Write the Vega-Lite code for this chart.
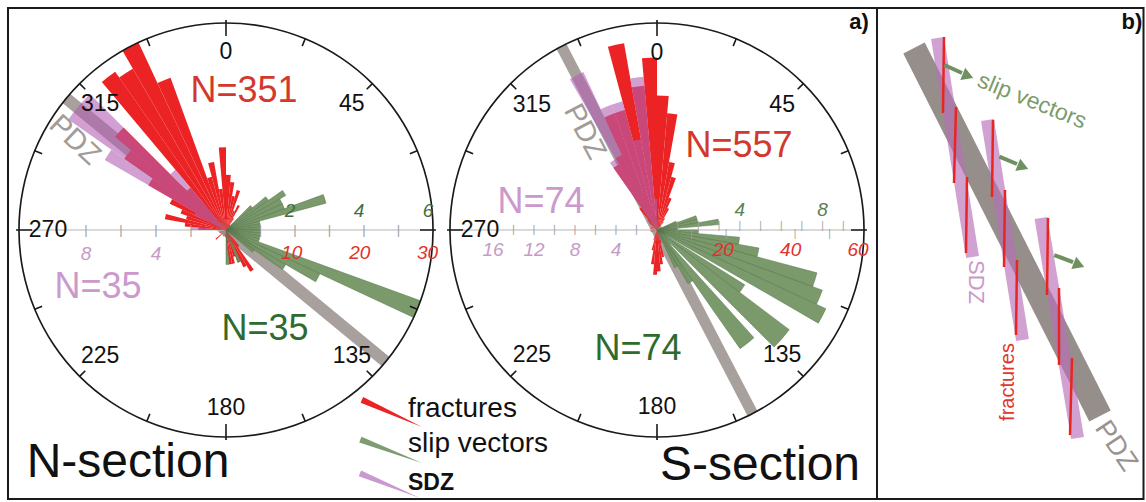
{
"$schema": "https://vega.github.io/schema/vega-lite/v6.json",
"width": 1146, "height": 502,
"autosize": {"type": "fit", "contains": "padding"},
"padding": 0,
"background": "white",
"data": {"values": [{"one": 1}]},
"config": {"view": {"stroke": null}, "axis": {"disable": true}, "font": "Liberation Sans", "text": {"font": "Liberation Sans"}},
"datasets": {
 "nFrac": [
  {"a0":270,"a1":275,"n":4},{"a0":275,"a1":280,"n":6},{"a0":280,"a1":285,"n":9},{"a0":285,"a1":290,"n":6},{"a0":290,"a1":295,"n":7},{"a0":295,"a1":300,"n":9},
  {"a0":300,"a1":305,"n":13},{"a0":305,"a1":310,"n":18},{"a0":310,"a1":315,"n":21},{"a0":315,"a1":320,"n":8},{"a0":320,"a1":325,"n":28},{"a0":325,"a1":330,"n":27},
  {"a0":330,"a1":335,"n":30},{"a0":335,"a1":340,"n":23.5},{"a0":340,"a1":345,"n":8},{"a0":345,"a1":350,"n":10},{"a0":350,"a1":355,"n":6},{"a0":355,"a1":360,"n":12},
  {"a0":0,"a1":5,"n":8},{"a0":5,"a1":10,"n":7},{"a0":10,"a1":15,"n":5},{"a0":15,"a1":20,"n":6},{"a0":20,"a1":25,"n":3},{"a0":25,"a1":30,"n":4},{"a0":30,"a1":35,"n":2},{"a0":35,"a1":40,"n":1},
  {"a0":140,"a1":145,"n":3},{"a0":145,"a1":150,"n":7},{"a0":150,"a1":155,"n":6},{"a0":155,"a1":160,"n":5},{"a0":160,"a1":165,"n":4},{"a0":165,"a1":170,"n":5},{"a0":170,"a1":175,"n":5},{"a0":175,"a1":180,"n":3},
  {"a0":180,"a1":185,"n":1},{"a0":200,"a1":205,"n":1},{"a0":225,"a1":230,"n":2},{"a0":245,"a1":250,"n":1}
 ],
 "nSlip": [
  {"a0":45,"a1":50,"n":1},{"a0":50,"a1":55,"n":1.5},{"a0":55,"a1":60,"n":2},{"a0":60,"a1":65,"n":1.8},{"a0":65,"a1":70,"n":1.8},{"a0":70,"a1":75,"n":3},
  {"a0":75,"a1":80,"n":1},{"a0":80,"a1":85,"n":1},{"a0":85,"a1":90,"n":1},{"a0":90,"a1":95,"n":1},{"a0":95,"a1":100,"n":1},{"a0":100,"a1":105,"n":1},
  {"a0":105,"a1":110,"n":1},{"a0":110,"a1":115,"n":6},{"a0":115,"a1":120,"n":3},{"a0":120,"a1":125,"n":2},{"a0":125,"a1":130,"n":1},{"a0":155,"a1":160,"n":1},{"a0":175,"a1":180,"n":1}
 ],
 "nSdz": [
  {"a0":270,"a1":275,"n":2},{"a0":295,"a1":300,"n":2},{"a0":300,"a1":305,"n":8},{"a0":305,"a1":310,"n":11},{"a0":310,"a1":315,"n":11},{"a0":315,"a1":320,"n":4.5}
 ],
 "sFrac": [
  {"a0":250,"a1":255,"n":2},{"a0":265,"a1":270,"n":2},{"a0":280,"a1":285,"n":2},{"a0":295,"a1":300,"n":2},{"a0":310,"a1":315,"n":3},{"a0":315,"a1":320,"n":4},
  {"a0":320,"a1":325,"n":8},{"a0":325,"a1":330,"n":22},{"a0":330,"a1":335,"n":24},{"a0":335,"a1":340,"n":36},{"a0":340,"a1":345,"n":36},{"a0":345,"a1":350,"n":55},
  {"a0":350,"a1":355,"n":42},{"a0":355,"a1":360,"n":50},{"a0":0,"a1":5,"n":39},{"a0":5,"a1":10,"n":34},{"a0":10,"a1":15,"n":20},{"a0":15,"a1":20,"n":16},
  {"a0":20,"a1":25,"n":10},{"a0":25,"a1":30,"n":7},{"a0":30,"a1":35,"n":4},{"a0":35,"a1":40,"n":3},
  {"a0":160,"a1":165,"n":4},{"a0":165,"a1":170,"n":8},{"a0":170,"a1":175,"n":10},{"a0":175,"a1":180,"n":12},{"a0":180,"a1":185,"n":13},{"a0":185,"a1":190,"n":10},{"a0":190,"a1":195,"n":6},{"a0":195,"a1":200,"n":3}
 ],
 "sSlip": [
  {"a0":65,"a1":70,"n":1},{"a0":70,"a1":75,"n":2},{"a0":75,"a1":80,"n":2},{"a0":80,"a1":85,"n":3},{"a0":85,"a1":90,"n":1},{"a0":90,"a1":95,"n":2},
  {"a0":95,"a1":100,"n":4},{"a0":100,"a1":105,"n":5},{"a0":105,"a1":110,"n":8},{"a0":110,"a1":115,"n":8.5},{"a0":115,"a1":120,"n":9},
  {"a0":122,"a1":127,"n":5},{"a0":127,"a1":135,"n":8},{"a0":138,"a1":145,"n":7},{"a0":145,"a1":150,"n":3},{"a0":150,"a1":155,"n":2}
 ],
 "sSdz": [
  {"a0":325,"a1":330,"n":8},{"a0":330,"a1":335,"n":17},{"a0":335,"a1":340,"n":13},{"a0":340,"a1":345,"n":13},{"a0":345,"a1":350,"n":9},{"a0":350,"a1":355,"n":15},{"a0":355,"a1":360,"n":3}
 ],
 "compass": [
  {"a":0},{"a":22.5},{"a":45},{"a":67.5},{"a":90},{"a":112.5},{"a":135},{"a":157.5},{"a":180},{"a":202.5},{"a":225},{"a":247.5},{"a":270},{"a":292.5},{"a":315},{"a":337.5}
 ],
 "compassLabels": [
  {"a":0,"t":"0"},{"a":45,"t":"45"},{"a":135,"t":"135"},{"a":180,"t":"180"},{"a":225,"t":"225"},{"a":270,"t":"270"},{"a":315,"t":"315"}
 ],
 "bSdz": [
  {"x1":3.4372,"y1":0.9275,"x2":3.6063,"y2":-0.1304},
  {"x1":3.6787,"y1":0.5314,"x2":3.8478,"y2":-0.5314},
  {"x1":3.9372,"y1":0.0580,"x2":4.1135,"y2":-1.0048}
 ],
 "bFrac": [
  {"x1":3.4686,"y1":0.9324,"x2":3.4638,"y2":0.5652},
  {"x1":3.5266,"y1":0.5942,"x2":3.5169,"y2":0.2271},
  {"x1":3.5797,"y1":0.2560,"x2":3.5749,"y2":-0.1111},
  {"x1":3.7053,"y1":0.5314,"x2":3.7005,"y2":0.1594},
  {"x1":3.7633,"y1":0.1932,"x2":3.7585,"y2":-0.1787},
  {"x1":3.8213,"y1":-0.1449,"x2":3.8164,"y2":-0.5072},
  {"x1":3.9710,"y1":0.0580,"x2":3.9662,"y2":-0.3140},
  {"x1":4.0242,"y1":-0.2802,"x2":4.0242,"y2":-0.6522},
  {"x1":4.0870,"y1":-0.6184,"x2":4.0773,"y2":-0.9903}
 ],
 "bArrow": [
  {"x1":3.4700,"y1":0.7971,"x2":3.5556,"y2":0.7585,"hx":3.5845,"hy":0.7440},
  {"x1":3.7357,"y1":0.3541,"x2":3.8213,"y2":0.3188,"hx":3.8502,"hy":0.3043},
  {"x1":4.0014,"y1":-0.1208,"x2":4.0918,"y2":-0.1546,"hx":4.1208,"hy":-0.1691}
 ]
},
"resolve": {"scale": {"radius": "independent"}},
"layer": [
 {"mark": {"type": "rect", "filled": false, "stroke": "#1a1a1a", "strokeWidth": 2},
  "encoding": {"x": {"datum": -1.0531, "type": "quantitative", "scale": {"domain": [-1.09179, 4.44444], "nice": false, "zero": false}},
   "x2": {"datum": 4.4324}, "y": {"datum": 1.0725, "type": "quantitative", "scale": {"domain": [-1.31401, 1.11111], "nice": false, "zero": false}}, "y2": {"datum": -1.2995}}},
 {"mark": {"type": "rule", "stroke": "#1a1a1a", "strokeWidth": 2},
  "encoding": {"x": {"datum": 3.1449, "type": "quantitative"}, "y": {"datum": 1.0725, "type": "quantitative"}, "y2": {"datum": -1.2995}}},

 {"mark": {"type": "rule", "stroke": "#a8a09c", "strokeWidth": 12, "strokeCap": "butt"},
  "encoding": {"x": {"datum": -0.7716, "type": "quantitative"}, "y": {"datum": 0.6361, "type": "quantitative"}, "x2": {"datum": 0.7716}, "y2": {"datum": -0.6361}}},
 {"mark": {"type": "rule", "stroke": "#b5b5b5", "strokeWidth": 1},
  "encoding": {"x": {"datum": -1, "type": "quantitative"}, "x2": {"datum": 1}, "y": {"datum": 0, "type": "quantitative"}}},
 {"data": {"name": "nFrac"}, "mark": {"type": "arc", "fill": "#ec2324"},
  "encoding": {"x": {"datum": 0, "type": "quantitative"}, "y": {"datum": 0, "type": "quantitative"},
   "theta": {"field": "a0", "type": "quantitative", "scale": {"domain": [0, 360], "range": [0, 6.283185307179586]}}, "theta2": {"field": "a1"},
   "radius": {"field": "n", "type": "quantitative", "scale": {"type": "linear", "domain": [0, 30], "range": [0, 207], "zero": true}}}},
 {"data": {"name": "nSlip"}, "mark": {"type": "arc", "fill": "#70915f", "fillOpacity": 0.92, "stroke": "#55744a", "strokeWidth": 0.5},
  "encoding": {"x": {"datum": 0, "type": "quantitative"}, "y": {"datum": 0, "type": "quantitative"},
   "theta": {"field": "a0", "type": "quantitative"}, "theta2": {"field": "a1"},
   "radius": {"field": "n", "type": "quantitative", "scale": {"type": "linear", "domain": [0, 6], "range": [0, 207], "zero": true}}}},
 {"data": {"name": "nSdz"}, "mark": {"type": "arc", "fill": "#b35fb3", "fillOpacity": 0.6},
  "encoding": {"x": {"datum": 0, "type": "quantitative"}, "y": {"datum": 0, "type": "quantitative"},
   "theta": {"field": "a0", "type": "quantitative"}, "theta2": {"field": "a1"},
   "radius": {"field": "n", "type": "quantitative", "scale": {"type": "linear", "domain": [0, 11.83], "range": [0, 207], "zero": true}}}},
 {"mark": {"type": "arc", "fill": "#1a1a1a", "radius": 207.8, "radius2": 206.2},
  "encoding": {"x": {"datum": 0, "type": "quantitative"}, "y": {"datum": 0, "type": "quantitative"}, "theta": {"datum": 0, "type": "quantitative"}, "theta2": {"datum": 360}}},
 {"data": {"name": "compass"}, "transform": [{"filter": "datum.a % 90 != 0"}],
  "mark": {"type": "arc", "fill": "#1a1a1a", "radius": 207, "radius2": 199, "thetaOffset": -0.004, "theta2Offset": 0.004},
  "encoding": {"x": {"datum": 0, "type": "quantitative"}, "y": {"datum": 0, "type": "quantitative"}, "theta": {"field": "a", "type": "quantitative"}, "theta2": {"field": "a"}}},
 {"data": {"name": "compass"}, "transform": [{"filter": "datum.a % 90 == 0"}],
  "mark": {"type": "arc", "fill": "#1a1a1a", "radius": 210, "radius2": 194, "thetaOffset": -0.004, "theta2Offset": 0.004},
  "encoding": {"x": {"datum": 0, "type": "quantitative"}, "y": {"datum": 0, "type": "quantitative"}, "theta": {"field": "a", "type": "quantitative"}, "theta2": {"field": "a"}}},
 {"data": {"name": "compassLabels"}, "mark": {"type": "text", "radius": 178, "fontSize": 23, "fill": "#111", "align": "center", "baseline": "middle"},
  "encoding": {"x": {"datum": 0, "type": "quantitative"}, "y": {"datum": 0, "type": "quantitative"}, "theta": {"field": "a", "type": "quantitative"}, "text": {"field": "t"}}},
 {"data": {"values": [{"v": 5}, {"v": 10}, {"v": 15}, {"v": 20}, {"v": 25}]}, "mark": {"type": "text", "text": "|", "fontSize": 13, "fill": "#a0a0a0", "baseline": "middle", "align": "center"},
  "encoding": {"x": {"datum": 0, "type": "quantitative"}, "y": {"datum": 0, "type": "quantitative"}, "theta": {"datum": 90, "type": "quantitative"},
   "radius": {"field": "v", "type": "quantitative", "scale": {"type": "linear", "domain": [0, 30], "range": [0, 207], "zero": true}}}},
 {"data": {"values": [{"v": 2}, {"v": 4}, {"v": 6}, {"v": 8}]}, "mark": {"type": "text", "text": "|", "fontSize": 13, "fill": "#a0a0a0", "baseline": "middle", "align": "center"},
  "encoding": {"x": {"datum": 0, "type": "quantitative"}, "y": {"datum": 0, "type": "quantitative"}, "theta": {"datum": 270, "type": "quantitative"},
   "radius": {"field": "v", "type": "quantitative", "scale": {"type": "linear", "domain": [0, 11.83], "range": [0, 207], "zero": true}}}},
 {"data": {"values": [{"v": 10}, {"v": 20}, {"v": 30}]}, "mark": {"type": "text", "fontSize": 19, "fontStyle": "italic", "fill": "#e0322a", "baseline": "middle", "align": "center", "dy": 23, "dx": -2},
  "encoding": {"x": {"datum": 0, "type": "quantitative"}, "y": {"datum": 0, "type": "quantitative"}, "theta": {"datum": 90, "type": "quantitative"},
   "radius": {"field": "v", "type": "quantitative", "scale": {"type": "linear", "domain": [0, 30.5], "range": [0, 207], "zero": true}}, "text": {"field": "v"}}},
 {"data": {"values": [{"v": 2}, {"v": 4}, {"v": 6}]}, "mark": {"type": "text", "fontSize": 19, "fontStyle": "italic", "fill": "#3f6f3f", "baseline": "middle", "align": "center", "dy": -19, "dx": -5},
  "encoding": {"x": {"datum": 0, "type": "quantitative"}, "y": {"datum": 0, "type": "quantitative"}, "theta": {"datum": 90, "type": "quantitative"},
   "radius": {"field": "v", "type": "quantitative", "scale": {"type": "linear", "domain": [0, 6], "range": [0, 207], "zero": true}}, "text": {"field": "v"}}},
 {"data": {"values": [{"v": 4}, {"v": 8}]}, "mark": {"type": "text", "fontSize": 19, "fontStyle": "italic", "fill": "#c79ac7", "baseline": "middle", "align": "center", "dy": 24},
  "encoding": {"x": {"datum": 0, "type": "quantitative"}, "y": {"datum": 0, "type": "quantitative"}, "theta": {"datum": 270, "type": "quantitative"},
   "radius": {"field": "v", "type": "quantitative", "scale": {"type": "linear", "domain": [0, 11.83], "range": [0, 207], "zero": true}}, "text": {"field": "v"}}},
 {"mark": {"type": "text", "text": "N=351", "fontSize": 36, "fill": "#d2382c", "align": "center", "baseline": "alphabetic"},
  "encoding": {"x": {"datum": 0.0870, "type": "quantitative"}, "y": {"datum": 0.6184, "type": "quantitative"}}},
 {"mark": {"type": "text", "text": "N=35", "fontSize": 36, "fill": "#cc99cc", "align": "center", "baseline": "alphabetic"},
  "encoding": {"x": {"datum": -0.6184, "type": "quantitative"}, "y": {"datum": -0.3285, "type": "quantitative"}}},
 {"mark": {"type": "text", "text": "N=35", "fontSize": 36, "fill": "#2f6b2f", "align": "center", "baseline": "alphabetic"},
  "encoding": {"x": {"datum": 0.1884, "type": "quantitative"}, "y": {"datum": -0.5314, "type": "quantitative"}}},
 {"mark": {"type": "text", "text": "N-section", "fontSize": 48, "fill": "#111", "align": "center", "baseline": "alphabetic"},
  "encoding": {"x": {"datum": -0.4734, "type": "quantitative"}, "y": {"datum": -1.1932, "type": "quantitative"}}},
 {"mark": {"type": "text", "text": "PDZ", "fontSize": 29, "fill": "#a39b97", "align": "center", "baseline": "middle", "angle": 43},
  "encoding": {"x": {"datum": -0.7295, "type": "quantitative"}, "y": {"datum": 0.4348, "type": "quantitative"}}},

 {"mark": {"type": "rule", "stroke": "#a8a09c", "strokeWidth": 11, "strokeCap": "butt"},
  "encoding": {"x": {"datum": 1.6204, "type": "quantitative"}, "y": {"datum": 0.8870, "type": "quantitative"}, "x2": {"datum": 2.5438}, "y2": {"datum": -0.8870}}},
 {"mark": {"type": "rule", "stroke": "#b5b5b5", "strokeWidth": 1},
  "encoding": {"x": {"datum": 1.0821, "type": "quantitative"}, "x2": {"datum": 3.0821}, "y": {"datum": 0, "type": "quantitative"}}},
 {"data": {"name": "sFrac"}, "mark": {"type": "arc", "fill": "#ec2324"},
  "encoding": {"x": {"datum": 2.0821, "type": "quantitative"}, "y": {"datum": 0, "type": "quantitative"},
   "theta": {"field": "a0", "type": "quantitative"}, "theta2": {"field": "a1"},
   "radius": {"field": "n", "type": "quantitative", "scale": {"type": "linear", "domain": [0, 60], "range": [0, 207], "zero": true}}}},
 {"data": {"name": "sSlip"}, "mark": {"type": "arc", "fill": "#70915f", "fillOpacity": 0.92, "stroke": "#55744a", "strokeWidth": 0.5},
  "encoding": {"x": {"datum": 2.0821, "type": "quantitative"}, "y": {"datum": 0, "type": "quantitative"},
   "theta": {"field": "a0", "type": "quantitative"}, "theta2": {"field": "a1"},
   "radius": {"field": "n", "type": "quantitative", "scale": {"type": "linear", "domain": [0, 10], "range": [0, 207], "zero": true}}}},
 {"data": {"name": "sSdz"}, "mark": {"type": "arc", "fill": "#b35fb3", "fillOpacity": 0.6},
  "encoding": {"x": {"datum": 2.0821, "type": "quantitative"}, "y": {"datum": 0, "type": "quantitative"},
   "theta": {"field": "a0", "type": "quantitative"}, "theta2": {"field": "a1"},
   "radius": {"field": "n", "type": "quantitative", "scale": {"type": "linear", "domain": [0, 20.2], "range": [0, 207], "zero": true}}}},
 {"mark": {"type": "arc", "fill": "#1a1a1a", "radius": 207.8, "radius2": 206.2},
  "encoding": {"x": {"datum": 2.0821, "type": "quantitative"}, "y": {"datum": 0, "type": "quantitative"}, "theta": {"datum": 0, "type": "quantitative"}, "theta2": {"datum": 360}}},
 {"data": {"name": "compass"}, "transform": [{"filter": "datum.a % 90 != 0"}],
  "mark": {"type": "arc", "fill": "#1a1a1a", "radius": 207, "radius2": 199, "thetaOffset": -0.004, "theta2Offset": 0.004},
  "encoding": {"x": {"datum": 2.0821, "type": "quantitative"}, "y": {"datum": 0, "type": "quantitative"}, "theta": {"field": "a", "type": "quantitative"}, "theta2": {"field": "a"}}},
 {"data": {"name": "compass"}, "transform": [{"filter": "datum.a % 90 == 0"}],
  "mark": {"type": "arc", "fill": "#1a1a1a", "radius": 210, "radius2": 194, "thetaOffset": -0.004, "theta2Offset": 0.004},
  "encoding": {"x": {"datum": 2.0821, "type": "quantitative"}, "y": {"datum": 0, "type": "quantitative"}, "theta": {"field": "a", "type": "quantitative"}, "theta2": {"field": "a"}}},
 {"data": {"name": "compassLabels"}, "mark": {"type": "text", "radius": 177, "fontSize": 23, "fill": "#111", "align": "center", "baseline": "middle"},
  "encoding": {"x": {"datum": 2.0821, "type": "quantitative"}, "y": {"datum": 0, "type": "quantitative"}, "theta": {"field": "a", "type": "quantitative"}, "text": {"field": "t"}}},
 {"data": {"values": [{"v": 1}, {"v": 2}, {"v": 3}, {"v": 4}, {"v": 5}, {"v": 6}, {"v": 7}, {"v": 8}, {"v": 9}]}, "mark": {"type": "text", "text": "|", "fontSize": 10, "fill": "#a0a0a0", "baseline": "middle", "align": "center", "dy": -4},
  "encoding": {"x": {"datum": 2.0821, "type": "quantitative"}, "y": {"datum": 0, "type": "quantitative"}, "theta": {"datum": 90, "type": "quantitative"},
   "radius": {"field": "v", "type": "quantitative", "scale": {"type": "linear", "domain": [0, 10], "range": [0, 207], "zero": true}}}},
 {"data": {"values": [{"v": 10}, {"v": 20}, {"v": 40}, {"v": 50}]}, "mark": {"type": "text", "text": "|", "fontSize": 10, "fill": "#a0a0a0", "baseline": "middle", "align": "center", "dy": 4},
  "encoding": {"x": {"datum": 2.0821, "type": "quantitative"}, "y": {"datum": 0, "type": "quantitative"}, "theta": {"datum": 90, "type": "quantitative"},
   "radius": {"field": "v", "type": "quantitative", "scale": {"type": "linear", "domain": [0, 60], "range": [0, 207], "zero": true}}}},
 {"data": {"values": [{"v": 2}, {"v": 4}, {"v": 6}, {"v": 8}, {"v": 10}, {"v": 12}, {"v": 14}]}, "mark": {"type": "text", "text": "|", "fontSize": 11, "fill": "#a0a0a0", "baseline": "middle", "align": "center"},
  "encoding": {"x": {"datum": 2.0821, "type": "quantitative"}, "y": {"datum": 0, "type": "quantitative"}, "theta": {"datum": 270, "type": "quantitative"},
   "radius": {"field": "v", "type": "quantitative", "scale": {"type": "linear", "domain": [0, 20.2], "range": [0, 207], "zero": true}}}},
 {"data": {"values": [{"v": 20}, {"v": 40}, {"v": 60}]}, "mark": {"type": "text", "fontSize": 19, "fontStyle": "italic", "fill": "#e0322a", "baseline": "middle", "align": "center", "dy": 20, "dx": -1},
  "encoding": {"x": {"datum": 2.0821, "type": "quantitative"}, "y": {"datum": 0, "type": "quantitative"}, "theta": {"datum": 90, "type": "quantitative"},
   "radius": {"field": "v", "type": "quantitative", "scale": {"type": "linear", "domain": [0, 61.5], "range": [0, 207], "zero": true}}, "text": {"field": "v"}}},
 {"data": {"values": [{"v": 4}, {"v": 8}]}, "mark": {"type": "text", "fontSize": 19, "fontStyle": "italic", "fill": "#5b7f55", "baseline": "middle", "align": "center", "dy": -20},
  "encoding": {"x": {"datum": 2.0821, "type": "quantitative"}, "y": {"datum": 0, "type": "quantitative"}, "theta": {"datum": 90, "type": "quantitative"},
   "radius": {"field": "v", "type": "quantitative", "scale": {"type": "linear", "domain": [0, 10], "range": [0, 207], "zero": true}}, "text": {"field": "v"}}},
 {"data": {"values": [{"v": 4}, {"v": 8}, {"v": 12}, {"v": 16}]}, "mark": {"type": "text", "fontSize": 19, "fontStyle": "italic", "fill": "#c79ac7", "baseline": "middle", "align": "center", "dy": 20},
  "encoding": {"x": {"datum": 2.0821, "type": "quantitative"}, "y": {"datum": 0, "type": "quantitative"}, "theta": {"datum": 270, "type": "quantitative"},
   "radius": {"field": "v", "type": "quantitative", "scale": {"type": "linear", "domain": [0, 20.2], "range": [0, 207], "zero": true}}, "text": {"field": "v"}}},
 {"mark": {"type": "text", "text": "N=557", "fontSize": 36, "fill": "#d2382c", "align": "center", "baseline": "alphabetic"},
  "encoding": {"x": {"datum": 2.4783, "type": "quantitative"}, "y": {"datum": 0.3527, "type": "quantitative"}}},
 {"mark": {"type": "text", "text": "N=74", "fontSize": 36, "fill": "#cc99cc", "align": "center", "baseline": "alphabetic"},
  "encoding": {"x": {"datum": 1.5217, "type": "quantitative"}, "y": {"datum": 0.0821, "type": "quantitative"}}},
 {"mark": {"type": "text", "text": "N=74", "fontSize": 36, "fill": "#2f6b2f", "align": "center", "baseline": "alphabetic"},
  "encoding": {"x": {"datum": 1.9903, "type": "quantitative"}, "y": {"datum": -0.6280, "type": "quantitative"}}},
 {"mark": {"type": "text", "text": "S-section", "fontSize": 48, "fill": "#111", "align": "center", "baseline": "alphabetic"},
  "encoding": {"x": {"datum": 2.5797, "type": "quantitative"}, "y": {"datum": -1.2077, "type": "quantitative"}}},
 {"mark": {"type": "text", "text": "PDZ", "fontSize": 29, "fill": "#a39b97", "align": "center", "baseline": "middle", "angle": 62},
  "encoding": {"x": {"datum": 1.7343, "type": "quantitative"}, "y": {"datum": 0.4758, "type": "quantitative"}}},

 {"mark": {"type": "arc", "fill": "#ec2324", "radius": 66},
  "encoding": {"x": {"datum": 0.9469, "type": "quantitative"}, "y": {"datum": -0.9517, "type": "quantitative"}, "theta": {"datum": 291.5, "type": "quantitative"}, "theta2": {"datum": 297}}},
 {"mark": {"type": "arc", "fill": "#7f9b70", "radius": 66},
  "encoding": {"x": {"datum": 0.9469, "type": "quantitative"}, "y": {"datum": -1.1256, "type": "quantitative"}, "theta": {"datum": 288, "type": "quantitative"}, "theta2": {"datum": 293.5}}},
 {"mark": {"type": "arc", "fill": "#c99ad0", "radius": 65},
  "encoding": {"x": {"datum": 0.9372, "type": "quantitative"}, "y": {"datum": -1.2947, "type": "quantitative"}, "theta": {"datum": 289.5, "type": "quantitative"}, "theta2": {"datum": 295}}},
 {"mark": {"type": "text", "text": "fractures", "fontSize": 28, "fill": "#111", "align": "left", "baseline": "alphabetic"},
  "encoding": {"x": {"datum": 0.8792, "type": "quantitative"}, "y": {"datum": -0.9034, "type": "quantitative"}}},
 {"mark": {"type": "text", "text": "slip vectors", "fontSize": 28, "fill": "#111", "align": "left", "baseline": "alphabetic"},
  "encoding": {"x": {"datum": 0.8792, "type": "quantitative"}, "y": {"datum": -1.0725, "type": "quantitative"}}},
 {"mark": {"type": "text", "text": "SDZ", "fontSize": 23, "fontWeight": "bold", "fill": "#111", "align": "left", "baseline": "alphabetic"},
  "encoding": {"x": {"datum": 0.8792, "type": "quantitative"}, "y": {"datum": -1.2560, "type": "quantitative"}}},
 {"mark": {"type": "text", "text": "a)", "fontSize": 22, "fontWeight": "bold", "fill": "#111", "align": "center", "baseline": "alphabetic"},
  "encoding": {"x": {"datum": 3.0580, "type": "quantitative"}, "y": {"datum": 0.9710, "type": "quantitative"}}},
 {"mark": {"type": "text", "text": "b)", "fontSize": 22, "fontWeight": "bold", "fill": "#111", "align": "center", "baseline": "alphabetic"},
  "encoding": {"x": {"datum": 4.3768, "type": "quantitative"}, "y": {"datum": 0.9710, "type": "quantitative"}}},

 {"mark": {"type": "rule", "stroke": "#968e8a", "strokeWidth": 24, "strokeCap": "butt"},
  "encoding": {"x": {"datum": 3.3237, "type": "quantitative"}, "y": {"datum": 0.8792, "type": "quantitative"}, "x2": {"datum": 4.2222}, "y2": {"datum": -0.8986}}},
 {"data": {"name": "bSdz"}, "mark": {"type": "rule", "stroke": "#b870b8", "strokeOpacity": 0.65, "strokeWidth": 13, "strokeCap": "butt"},
  "encoding": {"x": {"field": "x1", "type": "quantitative"}, "y": {"field": "y1", "type": "quantitative"}, "x2": {"field": "x2"}, "y2": {"field": "y2"}}},
 {"data": {"name": "bFrac"}, "mark": {"type": "rule", "stroke": "#e8261f", "strokeWidth": 2.5, "strokeCap": "butt"},
  "encoding": {"x": {"field": "x1", "type": "quantitative"}, "y": {"field": "y1", "type": "quantitative"}, "x2": {"field": "x2"}, "y2": {"field": "y2"}}},
 {"data": {"name": "bArrow"}, "mark": {"type": "rule", "stroke": "#6f905f", "strokeWidth": 4, "strokeCap": "butt"},
  "encoding": {"x": {"field": "x1", "type": "quantitative"}, "y": {"field": "y1", "type": "quantitative"}, "x2": {"field": "x2"}, "y2": {"field": "y2"}}},
 {"data": {"name": "bArrow"}, "mark": {"type": "point", "shape": "triangle-right", "filled": true, "fill": "#6f905f", "opacity": 1, "size": 170, "angle": 22},
  "encoding": {"x": {"field": "hx", "type": "quantitative"}, "y": {"field": "hy", "type": "quantitative"}}},
 {"mark": {"type": "text", "text": "slip vectors", "fontSize": 23, "fill": "#7b9b6d", "align": "center", "baseline": "middle", "angle": 22},
  "encoding": {"x": {"datum": 3.8937, "type": "quantitative"}, "y": {"datum": 0.6232, "type": "quantitative"}}},
 {"mark": {"type": "text", "text": "SDZ", "fontSize": 22, "fill": "#c999c9", "align": "center", "baseline": "middle", "angle": 90},
  "encoding": {"x": {"datum": 3.6232, "type": "quantitative"}, "y": {"datum": -0.2512, "type": "quantitative"}}},
 {"mark": {"type": "text", "text": "fractures", "fontSize": 20, "fill": "#e0362b", "align": "center", "baseline": "middle", "angle": 270},
  "encoding": {"x": {"datum": 3.7778, "type": "quantitative"}, "y": {"datum": -0.7343, "type": "quantitative"}}},
 {"mark": {"type": "text", "text": "PDZ", "fontSize": 27, "fill": "#9a928e", "align": "center", "baseline": "middle", "angle": 56},
  "encoding": {"x": {"datum": 4.2995, "type": "quantitative"}, "y": {"datum": -1.0435, "type": "quantitative"}}}
]
}
